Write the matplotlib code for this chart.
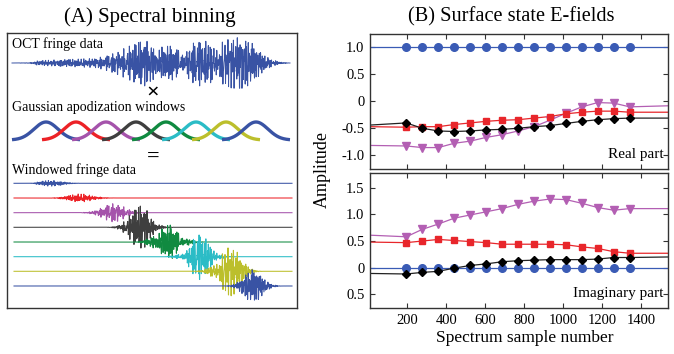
import numpy as np
import matplotlib
matplotlib.use("Agg")
import matplotlib.pyplot as plt

plt.rcParams['font.family'] = ['Liberation Serif', 'DejaVu Serif']

# ---------------- data: right panel ----------------
sample_x = [196, 278, 360, 441, 523, 605, 686, 768, 850, 931, 1013, 1095, 1176, 1258, 1340]
x_left, x_right = 10, 1536

real_blue = [1.0] * 15
real_red = [-0.49, -0.48, -0.48, -0.44, -0.41, -0.38, -0.36, -0.35, -0.32, -0.29, -0.24, -0.21, -0.19, -0.19, -0.21]
real_black = [-0.41, -0.51, -0.56, -0.57, -0.56, -0.54, -0.53, -0.51, -0.48, -0.46, -0.42, -0.38, -0.35, -0.33, -0.32]
real_mag = [-0.84, -0.87, -0.87, -0.79, -0.75, -0.68, -0.63, -0.56, -0.48, -0.36, -0.23, -0.11, -0.03, -0.04, -0.11]
real_edges = {'blue': (1.0, 1.0), 'red': (-0.48, -0.21), 'black': (-0.45, -0.32), 'mag': (-0.83, -0.09)}

imag_blue = [0.0] * 15
imag_red = [0.47, 0.50, 0.53, 0.51, 0.49, 0.47, 0.44, 0.44, 0.44, 0.44, 0.43, 0.39, 0.36, 0.30, 0.27]
imag_black = [-0.12, -0.09, -0.07, -0.01, 0.04, 0.07, 0.11, 0.13, 0.14, 0.15, 0.15, 0.15, 0.16, 0.19, 0.19]
imag_mag = [0.58, 0.72, 0.82, 0.93, 0.99, 1.05, 1.11, 1.19, 1.25, 1.29, 1.28, 1.21, 1.13, 1.08, 1.11]
imag_edges = {'blue': (0.0, 0.0), 'red': (0.48, 0.27), 'black': (-0.11, 0.20), 'mag': (0.61, 1.11)}

xticks = [200, 400, 600, 800, 1000, 1200, 1400]
real_yticks = [1.0, 0.5, 0, -0.5, -1.0]
real_yticklabels = ["1.0", "0.5", "0", "-0.5", "-1.0"]
imag_yticks = [1.5, 1.0, 0.5, 0, -0.5]
imag_yticklabels = ["1.5", "1.0", "0.5", "0", "0.5"]

# ---------------- data: left panel (schematic) ----------------
# fringe envelope (half amplitude, px)
env_x = [12, 30, 38, 50, 65, 80, 95, 105, 115, 125, 135, 145, 152, 157, 162, 172, 180, 184,
         190, 200, 210, 216, 222, 232, 242, 250, 258, 265, 272, 280, 290]
env_a = [0, 0.3, 2, 2.5, 3, 3.5, 4, 6, 9, 13, 17, 20, 16, 9, 14, 15, 10, 5,
         16, 20, 18, 10, 18, 22, 22, 19, 12, 6, 3, 0.8, 0]
window_centers = [46, 76, 106, 136, 166, 196, 226, 256]
window_colors = ['#3953a4', '#ec2227', '#a553ab', '#3f3f3f', '#108a40', '#2bbcc6', '#bcbf2c', '#3953a4']
windowed_baselines = [183.3, 198, 212.7, 227.3, 242, 256.7, 271.3, 286]

# carrier components (period px, weight, phase) for the schematic fringe
carrier_periods = [1.37, 0.93, 2.71, 0.71, 1.83, 1.11, 3.9, 0.83]
carrier_weights = [1.0, 0.8, 0.6, 0.5, 0.7, 0.6, 0.4, 0.5]
carrier_phases = [0.0, 1.1, 2.3, 0.4, 4.0, 5.2, 3.1, 1.7]


def carrier(x):
    c = np.zeros_like(x)
    for p, w, ph in zip(carrier_periods, carrier_weights, carrier_phases):
        c += w * np.sin(2 * np.pi * x / p + ph)
    c = c / np.percentile(np.abs(c), 90)
    return np.clip(c, -1.15, 1.15)


fig = plt.figure(figsize=(6.74, 3.54), dpi=100)

# ---------------- left panel ----------------
axL = fig.add_axes([7/674, 1-308/354, 290/674, 275/354])
axL.set_xlim(7, 297)
axL.set_ylim(308, 33)
axL.set_xticks([])
axL.set_yticks([])
for s in axL.spines.values():
    s.set_color('#333333')
    s.set_linewidth(1.0)

xs = np.linspace(12, 290, 2200)
env = np.interp(xs, env_x, env_a)
fringe = env * carrier(xs)

axL.plot(xs, 63 - fringe, color='#3953a4', lw=0.7)
axL.text(12, 44, "OCT fringe data", fontsize=10, ha='left', va='center')
axL.text(153, 93, "×", fontsize=16, ha='center', va='center', fontweight='bold')
axL.text(12, 108, "Gaussian apodization windows", fontsize=10, ha='left', va='center')
axL.text(153, 157, "=", fontsize=16, ha='center', va='center', fontweight='bold')
axL.text(12, 170, "Windowed fringe data", fontsize=10, ha='left', va='center')

for c, col in zip(window_centers, window_colors):
    wx = np.linspace(c - 34, c + 34, 200)
    wy = np.exp(-(wx - c)**2 / (2 * 12.0**2))
    axL.plot(wx, 140 - 18 * wy, color=col, lw=2.4, solid_capstyle='butt')

xw = np.linspace(14, 292, 2200)
envw = np.interp(xw, env_x, env_a)
carw = carrier(xw)
for c, col, y0 in zip(window_centers, window_colors, windowed_baselines):
    win = np.exp(-(xw - c - 3)**2 / (2 * 11.0**2))
    axL.plot(xw, y0 - envw * carw * win, color=col, lw=0.75)

# ---------------- right panels ----------------
def style_axes(ax):
    for s in ax.spines.values():
        s.set_color('#333333')
        s.set_linewidth(1.0)
    ax.tick_params(direction='in', length=3.5, width=0.8, color='#333333',
                   top=True, right=True, labelsize=10.5, pad=4)
    ax.set_xlim(x_left, x_right)
    ax.set_xticks(xticks)

col_blue = '#3a5bb5'
col_red = '#e8262b'
col_black = '#000000'
col_mag = '#b35fb3'

def draw_series(ax, vals, edges, col, marker, ms, lcol=None):
    lx = [x_left] + sample_x + [x_right]
    ly = [edges[0]] + vals + [edges[1]]
    ax.plot(lx, ly, color=lcol or col, lw=0.9, zorder=2)
    ax.plot(sample_x, vals, ls='none', marker=marker, ms=ms, color=col,
            markeredgecolor=col, zorder=3)

axT = fig.add_axes([370/674, 1-169/354, 298/674, 135/354])
style_axes(axT)
axT.set_ylim(-1.27, 1.25)
axT.set_yticks(real_yticks)
axT.set_yticklabels(real_yticklabels)
axT.set_xticklabels([])
draw_series(axT, real_blue, real_edges['blue'], col_blue, 'o', 5.5)
draw_series(axT, real_mag, real_edges['mag'], col_mag, 'v', 6.0)
draw_series(axT, real_red, real_edges['red'], col_red, 's', 5.0)
draw_series(axT, real_black, real_edges['black'], col_black, 'D', 4.5, '#222222')
axT.text(0.985, 0.06, "Real part", transform=axT.transAxes, ha='right', va='bottom', fontsize=11)

axB = fig.add_axes([370/674, 1-308/354, 298/674, 135/354])
style_axes(axB)
axB.set_ylim(-0.76, 1.78)
axB.set_yticks(imag_yticks)
axB.set_yticklabels(imag_yticklabels)
axB.set_xticklabels([str(t) for t in xticks])
draw_series(axB, imag_blue, imag_edges['blue'], col_blue, 'o', 5.5)
draw_series(axB, imag_mag, imag_edges['mag'], col_mag, 'v', 6.0)
draw_series(axB, imag_red, imag_edges['red'], col_red, 's', 5.0)
draw_series(axB, imag_black, imag_edges['black'], col_black, 'D', 4.5, '#222222')
axB.text(0.985, 0.06, "Imaginary part", transform=axB.transAxes, ha='right', va='bottom', fontsize=11)

fig.text(525/674, 1-338/354, "Spectrum sample number", ha='center', va='center', fontsize=12.5)
fig.text(322/674, 1-170/354, "Amplitude", rotation=90, ha='center', va='center', fontsize=13)
fig.text(150/674, 1-17/354, "(A) Spectral binning", ha='center', va='center', fontsize=15)
fig.text(511/674, 1-17/354, "(B) Surface state E-fields", ha='center', va='center', fontsize=14.7)

fig.savefig("out.png", dpi=100)
